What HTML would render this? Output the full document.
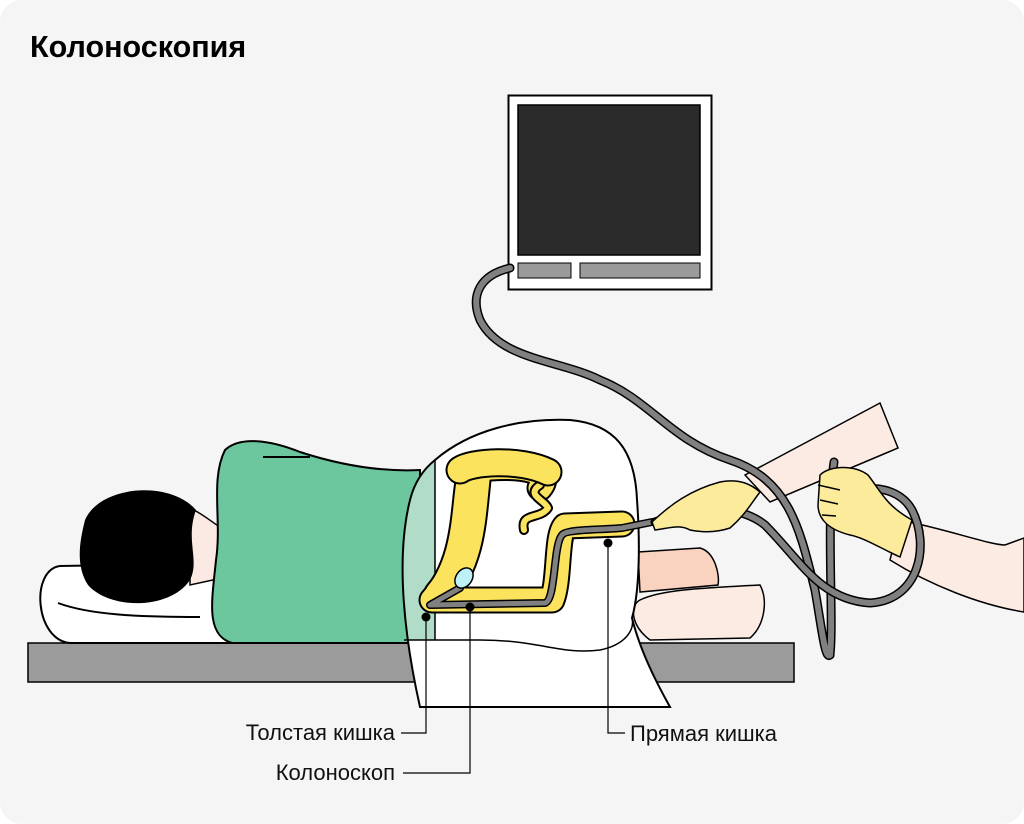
<!DOCTYPE html>
<html><head><meta charset="utf-8"><style>
html,body{margin:0;padding:0;background:#fff}
svg{display:block}
text{font-family:"Liberation Sans",sans-serif}
</style></head><body>
<svg width="1024" height="824" viewBox="0 0 1024 824" xmlns="http://www.w3.org/2000/svg">
<defs>
<clipPath id="sh"><path d="M435 460 C470 430 520 418 570 420 C615 424 635 450 637 500 C640 540 640 590 632 618 C640 650 655 680 670 707 L420 707 C405 640 395 560 410 500 C415 480 425 468 435 460 Z"/></clipPath>
</defs>
<rect x="0" y="0" width="1024" height="824" rx="22" fill="#f5f5f5"/>
<text x="30" y="57" font-size="30.5" font-weight="bold" fill="#000">Колоноскопия</text>

<rect x="508.5" y="95.5" width="203" height="194" fill="#fff" stroke="#000" stroke-width="2"/>
<rect x="518" y="105" width="182" height="150" fill="#2b2b2b" stroke="#000" stroke-width="1.5"/>
<rect x="518" y="263" width="53" height="15" fill="#9a9a9a" stroke="#000" stroke-width="1"/>
<rect x="580" y="263" width="120" height="15" fill="#9a9a9a" stroke="#000" stroke-width="1"/>

<rect x="28" y="643" width="766" height="39" fill="#9b9b9b" stroke="#000" stroke-width="1.5"/>

<path d="M60 566 C30 570 35 640 70 643 L240 643 L240 563 Z" fill="#fff" stroke="#000" stroke-width="2"/>
<path d="M58 603 C90 615 140 617 200 617" fill="none" stroke="#000" stroke-width="2"/>
<path d="M190 508 C205 515 215 525 222 528 L222 578 L190 585 Z" fill="#fbeae3" stroke="#000" stroke-width="1.5"/>
<path d="M85 520 C100 485 170 480 196 510 C185 540 200 560 190 580 C170 610 110 610 88 585 C75 565 80 540 85 520 Z" fill="#000"/>
<path d="M225 450 C240 436 270 440 300 452 C340 465 380 472 420 470 L420 643 L232 643 C205 635 212 600 216 560 C222 520 210 480 225 450 Z" fill="#6cc79e" stroke="#000" stroke-width="2"/>
<line x1="263" y1="457" x2="310" y2="457" stroke="#000" stroke-width="2"/>

<path d="M638 552 L700 548 C715 552 720 575 718 585 L640 592 Z" fill="#f9d3bf" stroke="#000" stroke-width="1.5"/>
<path d="M640 600 C660 590 700 588 760 585 C768 600 765 625 750 638 L650 640 C630 625 630 605 640 600 Z" fill="#fcebe2" stroke="#000" stroke-width="1.5"/>

<path d="M435 460 C470 430 520 418 570 420 C615 424 635 450 637 500 C640 540 640 590 632 618 C640 650 655 680 670 707 L420 707 C405 640 395 560 410 500 C415 480 425 468 435 460 Z" fill="#fff"/>
<rect x="390" y="440" width="45" height="200" fill="#b0dcc8" clip-path="url(#sh)"/>
<path d="M435 460 C470 430 520 418 570 420 C615 424 635 450 637 500 C640 540 640 590 632 618 C640 650 655 680 670 707 L420 707 C405 640 395 560 410 500 C415 480 425 468 435 460 Z" fill="none" stroke="#000" stroke-width="2"/>
<line x1="435" y1="460" x2="435" y2="640" stroke="#000" stroke-width="1.5"/>
<path d="M404 640 L480 640 C540 640 560 655 600 650 C625 645 635 630 632 618" fill="none" stroke="#000" stroke-width="1.5"/>

<g fill="none" stroke-linecap="round" stroke-linejoin="round">
<path d="M540 488 C555 470 520 466 490 468 L470 470 C462 505 468 560 432 600 L552 600 C560 580 556 535 565 526 L622 524" stroke="#000" stroke-width="27"/>
<path d="M475 475 C470 520 470 560 440 595" stroke="#000" stroke-width="34"/>
<path d="M540 488 C555 470 520 466 490 468 L470 470 C462 505 468 560 432 600 L552 600 C560 580 556 535 565 526 L622 524" stroke="#fbe35e" stroke-width="23"/>
<path d="M475 475 C470 520 470 560 440 595" stroke="#fbe35e" stroke-width="30"/>
<path d="M540 485 C525 495 545 500 548 508 C540 520 520 512 524 530" stroke="#000" stroke-width="10"/>
<path d="M540 485 C525 495 545 500 548 508 C540 520 520 512 524 530" stroke="#fbe35e" stroke-width="6"/>
<path d="M460 470 C470 462 520 458 548 472" stroke="#000" stroke-width="29"/>
<path d="M460 470 C470 462 520 458 548 472" stroke="#fbe35e" stroke-width="25"/>
<path d="M430 605 L460 588 M430 605 L545 603 C556 600 553 545 562 535 C566 529 600 530 622 528 L652 522" stroke="#000" stroke-width="8"/>
<path d="M430 605 L460 588 M430 605 L545 603 C556 600 553 545 562 535 C566 529 600 530 622 528 L652 522" stroke="#808080" stroke-width="5"/>
</g>
<ellipse cx="464" cy="578" rx="8" ry="11" transform="rotate(35 464 578)" fill="#bdf0f7" stroke="#000" stroke-width="1.5"/>

<path d="M745 475 L880 403 L898 448 L770 502 Z" fill="#fcebe2" stroke="#000" stroke-width="1.5"/>
<path d="M900 520 C950 530 990 545 1005 545 L1024 538 L1024 612 C980 605 930 585 890 560 Z" fill="#fcebe2" stroke="#000" stroke-width="1.5"/>

<g fill="none" stroke-linecap="round">
<path d="M510 268 C480 275 470 295 480 320 C500 360 560 360 600 380 C650 400 670 440 730 460 C790 480 800 530 815 590 C822 630 825 660 830 655 C834 620 826 520 834 462" stroke="#000" stroke-width="9"/>
<path d="M510 268 C480 275 470 295 480 320 C500 360 560 360 600 380 C650 400 670 440 730 460 C790 480 800 530 815 590 C822 630 825 660 830 655 C834 620 826 520 834 462" stroke="#808080" stroke-width="6"/>
<path d="M655 522 C700 505 740 505 765 525 C800 560 820 600 870 603 C920 600 930 545 912 510 C900 488 870 485 858 492" stroke="#000" stroke-width="9"/>
<path d="M655 522 C700 505 740 505 765 525 C800 560 820 600 870 603 C920 600 930 545 912 510 C900 488 870 485 858 492" stroke="#808080" stroke-width="6"/>
</g>

<path d="M652 522 C670 505 690 490 720 482 C740 478 752 485 760 492 C750 505 745 515 730 528 C715 533 700 532 690 530 C680 524 670 528 655 530 Z" fill="#fdeb9c" stroke="#000" stroke-width="1.5"/>
<path d="M820 475 C830 465 855 465 868 475 C880 490 885 505 912 520 L900 557 C880 548 865 538 850 535 C830 530 818 520 818 505 Z" fill="#fdeb9c" stroke="#000" stroke-width="1.5"/>
<path d="M818 485 L840 490 M820 500 L838 504 M822 515 L836 516" stroke="#000" stroke-width="1.5"/>

<g stroke="#000" stroke-width="1.2" fill="none">
<polyline points="401,733 426,733 426,617"/>
<polyline points="403,773 470,773 470,607"/>
<polyline points="625,733 608,733 608,543"/>
</g>
<circle cx="426" cy="617" r="4.5" fill="#000"/>
<circle cx="470" cy="607" r="4.5" fill="#000"/>
<circle cx="608" cy="543" r="4.5" fill="#000"/>
<text x="395" y="740" font-size="22" text-anchor="end" fill="#111">Толстая кишка</text>
<text x="395" y="780" font-size="22" text-anchor="end" fill="#111">Колоноскоп</text>
<text x="630" y="741" font-size="22" fill="#111">Прямая кишка</text>
</svg>
</body></html>
